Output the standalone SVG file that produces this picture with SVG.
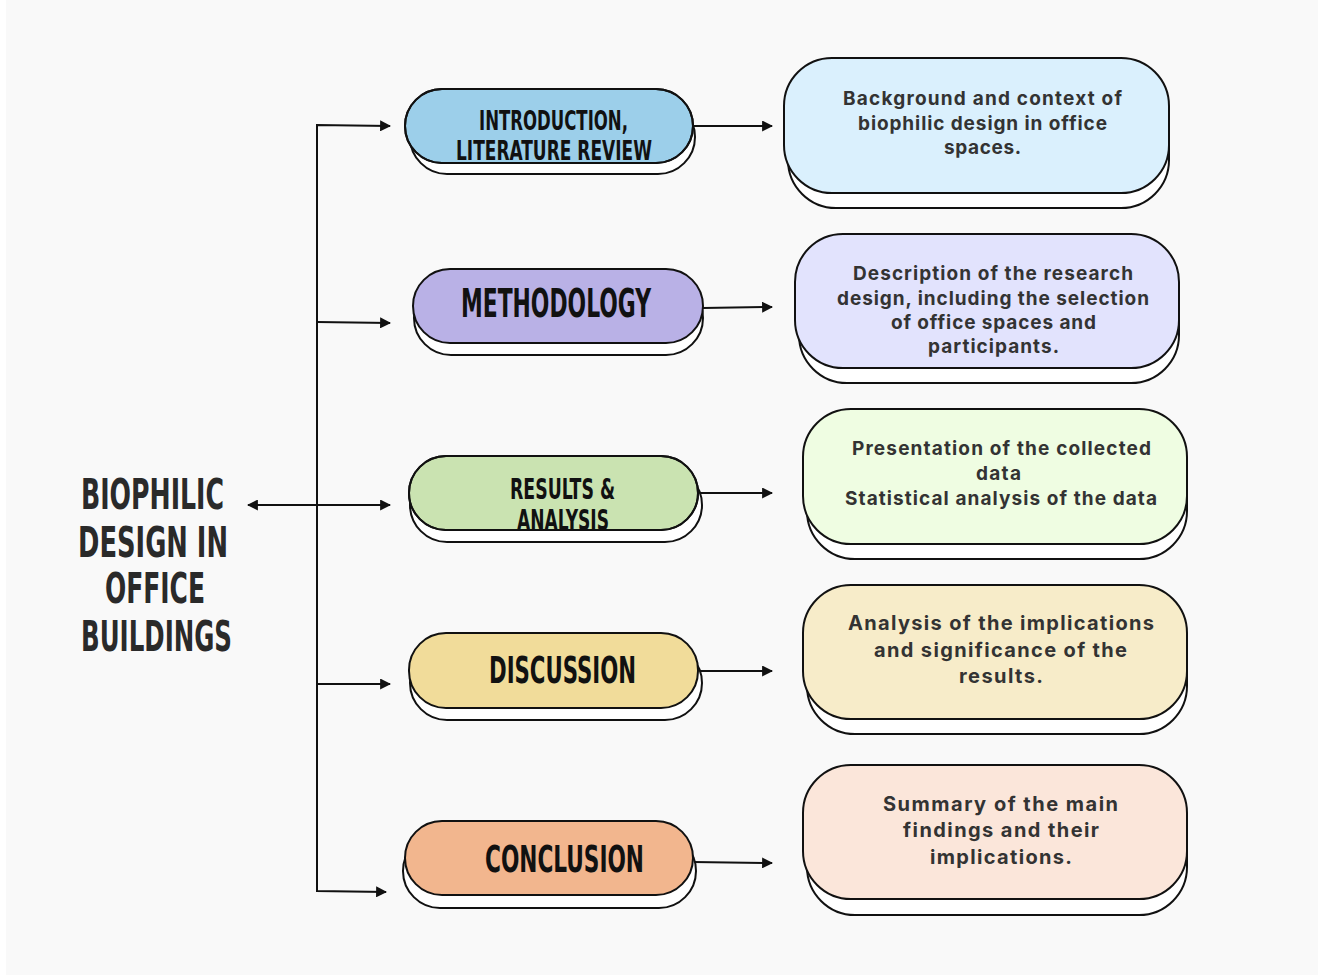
<svg xmlns="http://www.w3.org/2000/svg" width="1318" height="978" viewBox="0 0 1318 978">
<style>
.bg{fill:#f9f9f9}
.shadow{fill:#ffffff;stroke:#111;stroke-width:2}
.pill{stroke:#111;stroke-width:2}
.box{stroke:#111;stroke-width:2}
.conn{fill:none;stroke:#111;stroke-width:2}
.hand{font-family:"Liberation Sans Narrow","DejaVu Sans Condensed","Liberation Sans",sans-serif;font-weight:bold;fill:#111}
.title{font-family:"Liberation Sans Narrow","DejaVu Sans Condensed","Liberation Sans",sans-serif;font-weight:bold;fill:#2a2a2a}
.body{font-family:Inter,"Noto Sans","Liberation Sans",sans-serif;font-weight:700;fill:#333}
</style>
<defs>
<marker id="ah" viewBox="0 0 10 10" refX="9" refY="5" markerWidth="5.5" markerHeight="5.5" orient="auto-start-reverse" markerUnits="strokeWidth">
<path d="M0,0 L10,5 L0,10 z" fill="#111"/>
</marker>
<clipPath id="c3"><rect x="409" y="456" width="289" height="74" rx="37"/></clipPath>
<clipPath id="c1"><rect x="405" y="89" width="288" height="74" rx="37"/></clipPath>
</defs>
<rect class="bg" x="6" y="0" width="1312" height="975"/>

<g id="connectors">
<path class="conn" d="M390,126 L317,125 L317,891 L386,892" marker-start="url(#ah)" marker-end="url(#ah)"/>
<path class="conn" d="M317,322 L390,323" marker-end="url(#ah)"/>
<path class="conn" d="M317,684 L390,684" marker-end="url(#ah)"/>
<path class="conn" d="M248,505 L390,505" marker-start="url(#ah)" marker-end="url(#ah)"/>
<path class="conn" d="M693,126 L772,126" marker-end="url(#ah)"/>
<path class="conn" d="M703,308 L772,307" marker-end="url(#ah)"/>
<path class="conn" d="M698,493 L772,493" marker-end="url(#ah)"/>
<path class="conn" d="M698,671 L772,671" marker-end="url(#ah)"/>
<path class="conn" d="M693,862 L772,863" marker-end="url(#ah)"/>
</g>

<g id="title">
<text class="title" x="81" y="509" font-size="43" textLength="143" lengthAdjust="spacingAndGlyphs">BIOPHILIC</text>
<text class="title" x="78" y="557" font-size="43" textLength="150" lengthAdjust="spacingAndGlyphs">DESIGN IN</text>
<text class="title" x="105" y="603" font-size="43" textLength="100" lengthAdjust="spacingAndGlyphs">OFFICE</text>
<text class="title" x="81" y="651" font-size="43" textLength="151" lengthAdjust="spacingAndGlyphs">BUILDINGS</text>
</g>

<g id="pill-intro">
<rect class="shadow" x="410" y="100" width="285" height="74" rx="37"/>
<rect class="pill" x="405" y="89" width="288" height="74" rx="37" fill="#9ccfea"/>
<g clip-path="url(#c1)">
<text class="hand" x="479" y="130" font-size="26" textLength="149" lengthAdjust="spacingAndGlyphs">INTRODUCTION,</text>
<text class="hand" x="456" y="160" font-size="26" textLength="196" lengthAdjust="spacingAndGlyphs">LITERATURE REVIEW</text>
</g>
<rect x="405" y="89" width="288" height="74" rx="37" fill="none" stroke="#111" stroke-width="2"/>
</g>

<g id="pill-method">
<rect class="shadow" x="414" y="281" width="289" height="74" rx="37"/>
<rect class="pill" x="413" y="269" width="290" height="74" rx="37" fill="#b9b1e6"/>
<text class="hand" x="461" y="317" font-size="39" textLength="190" lengthAdjust="spacingAndGlyphs">METHODOLOGY</text>
</g>

<g id="pill-results">
<rect class="shadow" x="410" y="468" width="292" height="74" rx="37"/>
<rect class="pill" x="409" y="456" width="289" height="74" rx="37" fill="#cae3b1"/>
<g clip-path="url(#c3)">
<text class="hand" x="510" y="499" font-size="28" textLength="105" lengthAdjust="spacingAndGlyphs">RESULTS &amp;</text>
<text class="hand" x="517" y="530" font-size="28" textLength="92" lengthAdjust="spacingAndGlyphs">ANALYSIS</text>
</g>
<rect x="409" y="456" width="289" height="74" rx="37" fill="none" stroke="#111" stroke-width="2"/>
</g>

<g id="pill-discussion">
<rect class="shadow" x="410" y="646" width="292" height="74" rx="37"/>
<rect class="pill" x="409" y="633" width="289" height="75" rx="37" fill="#f1dc9a"/>
<text class="hand" x="489" y="683" font-size="38" textLength="147" lengthAdjust="spacingAndGlyphs">DISCUSSION</text>
</g>

<g id="pill-conclusion">
<rect class="shadow" x="403" y="834" width="293" height="74" rx="37"/>
<rect class="pill" x="405" y="821" width="288" height="74" rx="37" fill="#f2b68e"/>
<text class="hand" x="485" y="872" font-size="38" textLength="159" lengthAdjust="spacingAndGlyphs">CONCLUSION</text>
</g>

<g id="box-intro">
<rect class="shadow" x="788" y="73" width="381" height="135" rx="48"/>
<rect class="box" x="784" y="58" width="385" height="135" rx="48" fill="#daf0fd"/>
<text class="body" font-size="19" x="843" y="105" textLength="279">Background and context of</text>
<text class="body" font-size="19" x="858" y="130" textLength="249">biophilic design in office</text>
<text class="body" font-size="19" x="944" y="154" textLength="77">spaces.</text>
</g>

<g id="box-method">
<rect class="shadow" x="799" y="249" width="380" height="134" rx="48"/>
<rect class="box" x="795" y="234" width="384" height="134" rx="48" fill="#e2e3fd"/>
<text class="body" font-size="19" x="853" y="280" textLength="280">Description of the research</text>
<text class="body" font-size="19" x="837" y="305" textLength="312">design, including the selection</text>
<text class="body" font-size="19" x="891" y="329" textLength="205">of office spaces and</text>
<text class="body" font-size="19" x="928" y="353" textLength="131">participants.</text>
</g>

<g id="box-results">
<rect class="shadow" x="807" y="424" width="380" height="135" rx="48"/>
<rect class="box" x="803" y="409" width="384" height="135" rx="48" fill="#effde2"/>
<text class="body" font-size="19" x="852" y="455" textLength="299">Presentation of the collected</text>
<text class="body" font-size="19" x="976" y="480" textLength="45">data</text>
<text class="body" font-size="19" x="845" y="505" textLength="312">Statistical analysis of the data</text>
</g>

<g id="box-discussion">
<rect class="shadow" x="807" y="600" width="380" height="134" rx="48"/>
<rect class="box" x="803" y="585" width="384" height="134" rx="48" fill="#f7ecc9"/>
<text class="body" font-size="20" x="848" y="630" textLength="306">Analysis of the implications</text>
<text class="body" font-size="20" x="874" y="657" textLength="253">and significance of the</text>
<text class="body" font-size="20" x="959" y="683" textLength="84">results.</text>
</g>

<g id="box-conclusion">
<rect class="shadow" x="807" y="781" width="380" height="134" rx="48"/>
<rect class="box" x="803" y="765" width="384" height="134" rx="48" fill="#fbe6da"/>
<text class="body" font-size="20" x="883" y="811" textLength="235">Summary of the main</text>
<text class="body" font-size="20" x="903" y="837" textLength="196">findings and their</text>
<text class="body" font-size="20" x="930" y="864" textLength="142">implications.</text>
</g>
</svg>
